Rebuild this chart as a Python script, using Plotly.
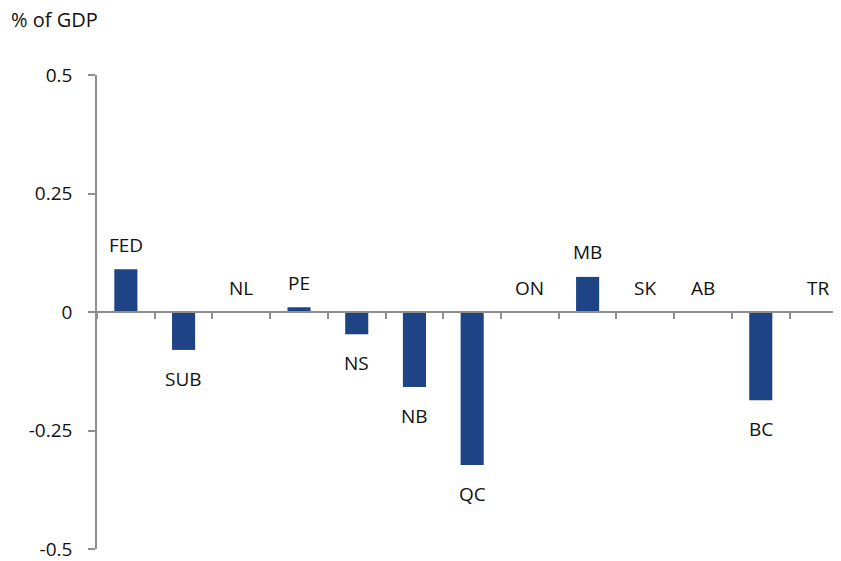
import plotly.graph_objects as go

categories = ["FED", "SUB", "NL", "PE", "NS", "NB", "QC", "ON", "MB", "SK", "AB", "BC", "TR"]
values = [0.09, -0.08, 0.0, 0.01, -0.047, -0.158, -0.323, 0.0, 0.074, 0.0, 0.0, -0.186, 0.0]
y_tickvals = [0.5, 0.25, 0, -0.25, -0.5]
y_ticktext = ["0.5", "0.25", "0", "-0.25", "-0.5"]

FONT = "Open Sans, Noto Sans, sans-serif"
AXIS_COLOR = "#8f8f8f"
BAR_COLOR = "#1e4485"
FS = 19

fig = go.Figure()
fig.add_trace(go.Bar(
    x=categories, y=values, marker_color=BAR_COLOR, marker_line_width=0,
    width=0.4, hoverinfo="x+y",
))

for c, v in zip(categories, values):
    fig.add_annotation(
        x=c, y=v, xref="x", yref="y", text=c, showarrow=False,
        yanchor="middle", yshift=(24.5 if v >= 0 else -29),
        font=dict(family=FONT, size=FS, color="#111111"),
    )

fig.add_annotation(
    x=0, y=1, xref="paper", yref="paper", xanchor="left", yanchor="middle",
    text="% of GDP", showarrow=False, xshift=-87, yshift=56, borderpad=0,
    font=dict(family=FONT, size=20, color="#111111"),
)

fig.update_layout(
    width=833, height=553,
    margin=dict(l=89, r=0, t=67, b=12),
    paper_bgcolor="white", plot_bgcolor="white",
    showlegend=False,
    font=dict(family=FONT, size=FS, color="#111111"),
    xaxis=dict(
        type="category", range=[-0.5, 12.39],
        anchor="free", position=0.5,
        showline=True, linecolor=AXIS_COLOR, linewidth=1.5,
        ticks="outside", tickson="boundaries", ticklen=6, tickcolor=AXIS_COLOR, tickwidth=1.5,
        showticklabels=False, showgrid=False, zeroline=False,
    ),
    yaxis=dict(
        range=[-0.5, 0.5], tickvals=y_tickvals, ticktext=y_ticktext,
        showline=True, linecolor=AXIS_COLOR, linewidth=1.5,
        ticks="outside", ticklen=7, tickcolor=AXIS_COLOR, tickwidth=1.5,
        ticklabelstandoff=12, ticklabeloverflow="allow",
        showgrid=False, zeroline=False,
        tickfont=dict(family=FONT, size=FS, color="#111111"),
    ),
)

fig.write_html("out.html")
